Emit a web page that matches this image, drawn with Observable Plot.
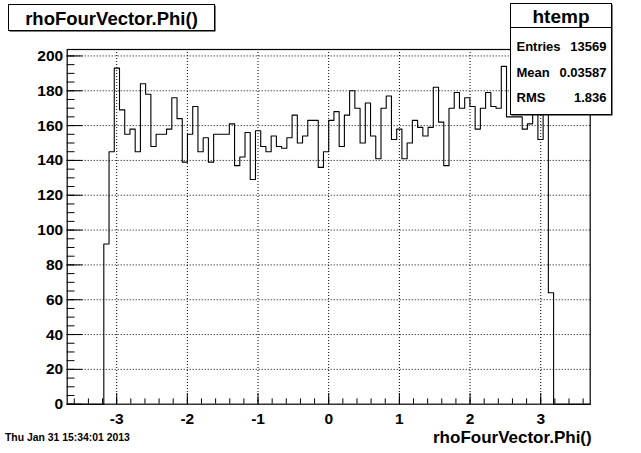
<!DOCTYPE html>
<html>
<head>
<meta charset="utf-8">
<script src="https://cdn.jsdelivr.net/npm/d3@7"></script>
<script src="https://cdn.jsdelivr.net/npm/@observablehq/plot@0.6"></script>
<style>
  html, body { margin: 0; padding: 0; background: white; }
  svg { display: block; }
</style>
</head>
<body>
<div id="chart"></div>
<script>
// ---- data ----
const xMin = -3.7, xMax = 3.7, nBins = 100;
const counts = [
  0, 0, 0, 0, 0, 0, 0, 92, 145, 193,
  169, 155, 158, 145, 184, 178, 148, 155, 155, 158,
  176, 164, 139, 155, 171, 145, 153, 139, 155, 155,
  155, 161, 137, 142, 156, 129, 157, 148, 145, 154,
  148, 147, 153, 166, 150, 154, 163, 163, 136, 145,
  163, 168, 148, 166, 180, 170, 150, 173, 154, 141,
  170, 177, 152, 158, 141, 150, 163, 159, 154, 159,
  182, 162, 137, 170, 179, 170, 176, 171, 158, 170,
  179, 171, 170, 194, 165, 165, 165, 158, 161, 178,
  152, 175, 64, 0, 0, 0, 0, 0, 0, 0
];
const xTicks = [-3, -2, -1, 0, 1, 2, 3];
const xTickLabels = ["-3", "-2", "-1", "0", "1", "2", "3"];
const yTicks = [0, 20, 40, 60, 80, 100, 120, 140, 160, 180, 200];
const title = "rhoFourVector.Phi()";
const xTitle = "rhoFourVector.Phi()";
const statsName = "htemp";
const statLabels = ["Entries", "Mean", "RMS"];
const statValues = ["13569", "0.03587", "1.836"];
const dateText = "Thu Jan 31 15:34:01 2013";

// ---- derived ----
const binW = (xMax - xMin) / nBins;
const steps = counts.map((c, i) => ({x: xMin + i * binW, y: c}));
steps.push({x: xMax, y: counts[counts.length - 1]});
const yMax = 1.05 * d3.max(counts);
const xMinor = d3.range(Math.ceil(xMin / 0.2), Math.floor(xMax / 0.2) + 1).map(k => +(k * 0.2).toFixed(2));
const yMinor = d3.range(0, Math.floor(yMax / 5) + 1).map(k => k * 5);

const W = 641, H = 453;
const mL = 66.7, mR = 51.3, mT = 49, mB = 49.3;
const fw = W - mL - mR, fh = H - mT - mB;
const font = "'Liberation Sans', Arial, Helvetica, sans-serif";

const svg = Plot.plot({
  width: W, height: H,
  marginLeft: mL, marginRight: mR, marginTop: mT, marginBottom: mB,
  x: {domain: [xMin, xMax], axis: null},
  y: {domain: [0, yMax], axis: null},
  style: {fontFamily: font, background: "white", overflow: "visible"},
  marks: [
    Plot.ruleX(xTicks, {x: d => d, stroke: "#000", strokeDasharray: "1,2", strokeWidth: 1}),
    Plot.ruleY(yTicks.filter(d => d > 0), {y: d => d, stroke: "#000", strokeDasharray: "1,2", strokeWidth: 1}),
    Plot.line(steps, {x: "x", y: "y", curve: "step-after", stroke: "#000", strokeWidth: 1.1}),
    Plot.tickX(xTicks, {x: d => d, insetTop: fh - 10.7, stroke: "#000"}),
    Plot.tickX(xMinor, {x: d => d, insetTop: fh - 5.3, stroke: "#000"}),
    Plot.tickY(yTicks, {y: d => d, insetRight: fw - 15.7, stroke: "#000"}),
    Plot.tickY(yMinor, {y: d => d, insetRight: fw - 7.8, stroke: "#000"}),
    Plot.frame({stroke: "#000", strokeWidth: 1.2}),
    Plot.text(yTicks, {x: xMin, y: d => d, text: d => String(d), textAnchor: "end", dx: -4,
      fontSize: 15.5, fontWeight: "bold", fill: "#000"}),
    Plot.text(xTicks, {x: d => d, y: 0, text: (d, i) => xTickLabels[i], dy: 9, lineAnchor: "top",
      fontSize: 15.5, fontWeight: "bold", fill: "#000"})
  ]
});

const s = d3.select(svg);
function txt(g, x, y, str, size, anchor) {
  return g.append("text").attr("x", x).attr("y", y).attr("text-anchor", anchor)
    .attr("font-family", font).attr("font-weight", "bold").attr("font-size", size)
    .attr("fill", "#000").text(str);
}
// x axis title
txt(s, mL + fw + 2, 443, xTitle, 17, "end");
// date
txt(s, 5, 441, dateText, 10.4, "start");

// title box
const tb = s.append("g");
tb.append("rect").attr("x", 9.5).attr("y", 5.5).attr("width", 206).attr("height", 26).attr("fill", "#000");
tb.append("rect").attr("x", 8.5).attr("y", 4.5).attr("width", 206).attr("height", 26)
  .attr("fill", "white").attr("stroke", "#000");
txt(tb, 111.5, 24.5, title, 18.5, "middle");

// stats box
const sb = s.append("g");
const bx = 510.5, by = 3.5, bw = 101, bh = 111;
sb.append("rect").attr("x", bx + 1).attr("y", by + 1).attr("width", bw).attr("height", bh).attr("fill", "#000");
sb.append("rect").attr("x", bx).attr("y", by).attr("width", bw).attr("height", bh)
  .attr("fill", "white").attr("stroke", "#000");
sb.append("line").attr("x1", bx).attr("x2", bx + bw).attr("y1", 27.5).attr("y2", 27.5).attr("stroke", "#000");
txt(sb, bx + bw / 2, 23, statsName, 19, "middle");
const rowY = [51, 77, 102];
statLabels.forEach((l, i) => {
  txt(sb, bx + 6, rowY[i], l, 13, "start");
  txt(sb, bx + bw - 5, rowY[i], statValues[i], 13, "end");
});

document.getElementById("chart").appendChild(svg);
</script>
</body>
</html>
